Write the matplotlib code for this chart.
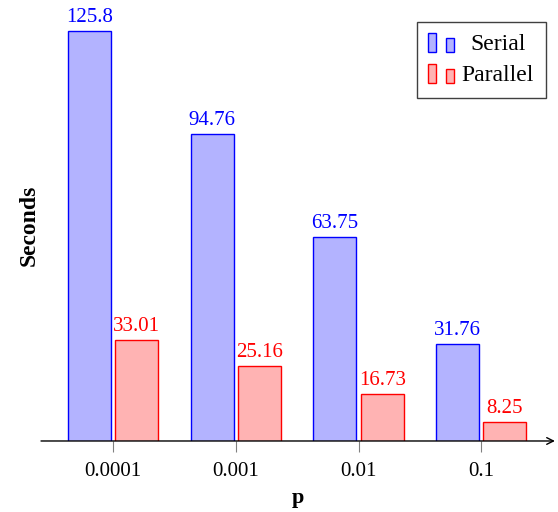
import matplotlib.pyplot as plt
from matplotlib.patches import Rectangle, Patch
from matplotlib.legend_handler import HandlerBase
import numpy as np

# data
p_labels = ['0.0001', '0.001', '0.01', '0.1']
serial = [125.8, 94.76, 63.75, 31.76]
parallel = [33.01, 25.16, 16.73, 8.25]
serial_text = ['125.8', '94.76', '63.75', '31.76']
parallel_text = ['33.01', '25.16', '16.73', '8.25']

plt.rcParams['font.family'] = ['Liberation Serif', 'DejaVu Serif']
plt.rcParams['font.size'] = 15

blue_fill = (0.7, 0.7, 1.0)
red_fill = (1.0, 0.7, 0.7)


# pgfplots style legend: two small bars
class TwoBars(HandlerBase):
    def create_artists(self, legend, orig_handle, xdescent, ydescent,
                       width, height, fontsize, trans):
        fc = orig_handle.get_facecolor()
        ec = orig_handle.get_edgecolor()
        x0 = -xdescent
        y0 = -ydescent - 0.1 * height
        r1 = Rectangle((x0, y0), 0.3 * width, 1.15 * height,
                       facecolor=fc, edgecolor=ec, lw=1, transform=trans)
        r2 = Rectangle((x0 + 0.68 * width, y0), 0.3 * width, 0.85 * height,
                       facecolor=fc, edgecolor=ec, lw=1, transform=trans)
        return [r1, r2]


fig = plt.figure(figsize=(5.58, 5.12), dpi=100)
ax = fig.add_axes([0.0735, 0.1387, 0.921, 0.8418])

x = np.arange(len(p_labels))
w = 0.35
off = 0.193
b1 = ax.bar(x - off, serial, w, color=blue_fill, edgecolor='blue', lw=1, label='Serial')
b2 = ax.bar(x + off, parallel, w, color=red_fill, edgecolor='red', lw=1, label='Parallel')

for xi, v, t in zip(x, serial, serial_text):
    ax.annotate(t, (xi - off, v), xytext=(0, 3), textcoords='offset points',
                ha='center', va='bottom', color='blue')
for xi, v, t in zip(x, parallel, parallel_text):
    ax.annotate(t, (xi + off, v), xytext=(0, 3), textcoords='offset points',
                ha='center', va='bottom', color='red')

ax.set_xlim(-0.587, 3.6)
ax.set_ylim(2.6, 132.1)
ax.set_xticks(x)
ax.set_xticklabels(p_labels)
ax.set_yticks([])
ax.tick_params(axis='x', direction='out', length=8, color='gray', width=0.8, pad=7)

for s in ['top', 'right', 'left', 'bottom']:
    ax.spines[s].set_visible(False)
ax.annotate('', xy=(1.0, 0), xytext=(0, 0), xycoords='axes fraction',
            arrowprops=dict(arrowstyle='->', color='black', lw=1, mutation_scale=12,
                            shrinkA=0, shrinkB=0))

ax.set_xlabel('p', fontweight='bold', fontsize=16, labelpad=5)
ax.set_ylabel('Seconds', fontweight='bold', fontsize=17, labelpad=1)

leg = ax.legend(handler_map={Patch: TwoBars()},
                handles=[Patch(facecolor=blue_fill, edgecolor='blue', label='Serial'),
                         Patch(facecolor=red_fill, edgecolor='red', label='Parallel')],
                loc='upper right', bbox_to_anchor=(0.982, 0.972), fancybox=False,
                edgecolor='0.25', framealpha=1, fontsize=17, handlelength=1.1,
                handletextpad=0.3, borderpad=0.5, labelspacing=0.4, borderaxespad=0)
leg.get_frame().set_linewidth(1.0)
# center "Serial" under the wider "Parallel" like the original legend
fig.canvas.draw()
r = fig.canvas.get_renderer()
tw = [t.get_window_extent(r).width for t in leg.get_texts()]
leg.get_texts()[0].set_x((tw[1] - tw[0]) / 2)

plt.savefig('out.png', dpi=100)
